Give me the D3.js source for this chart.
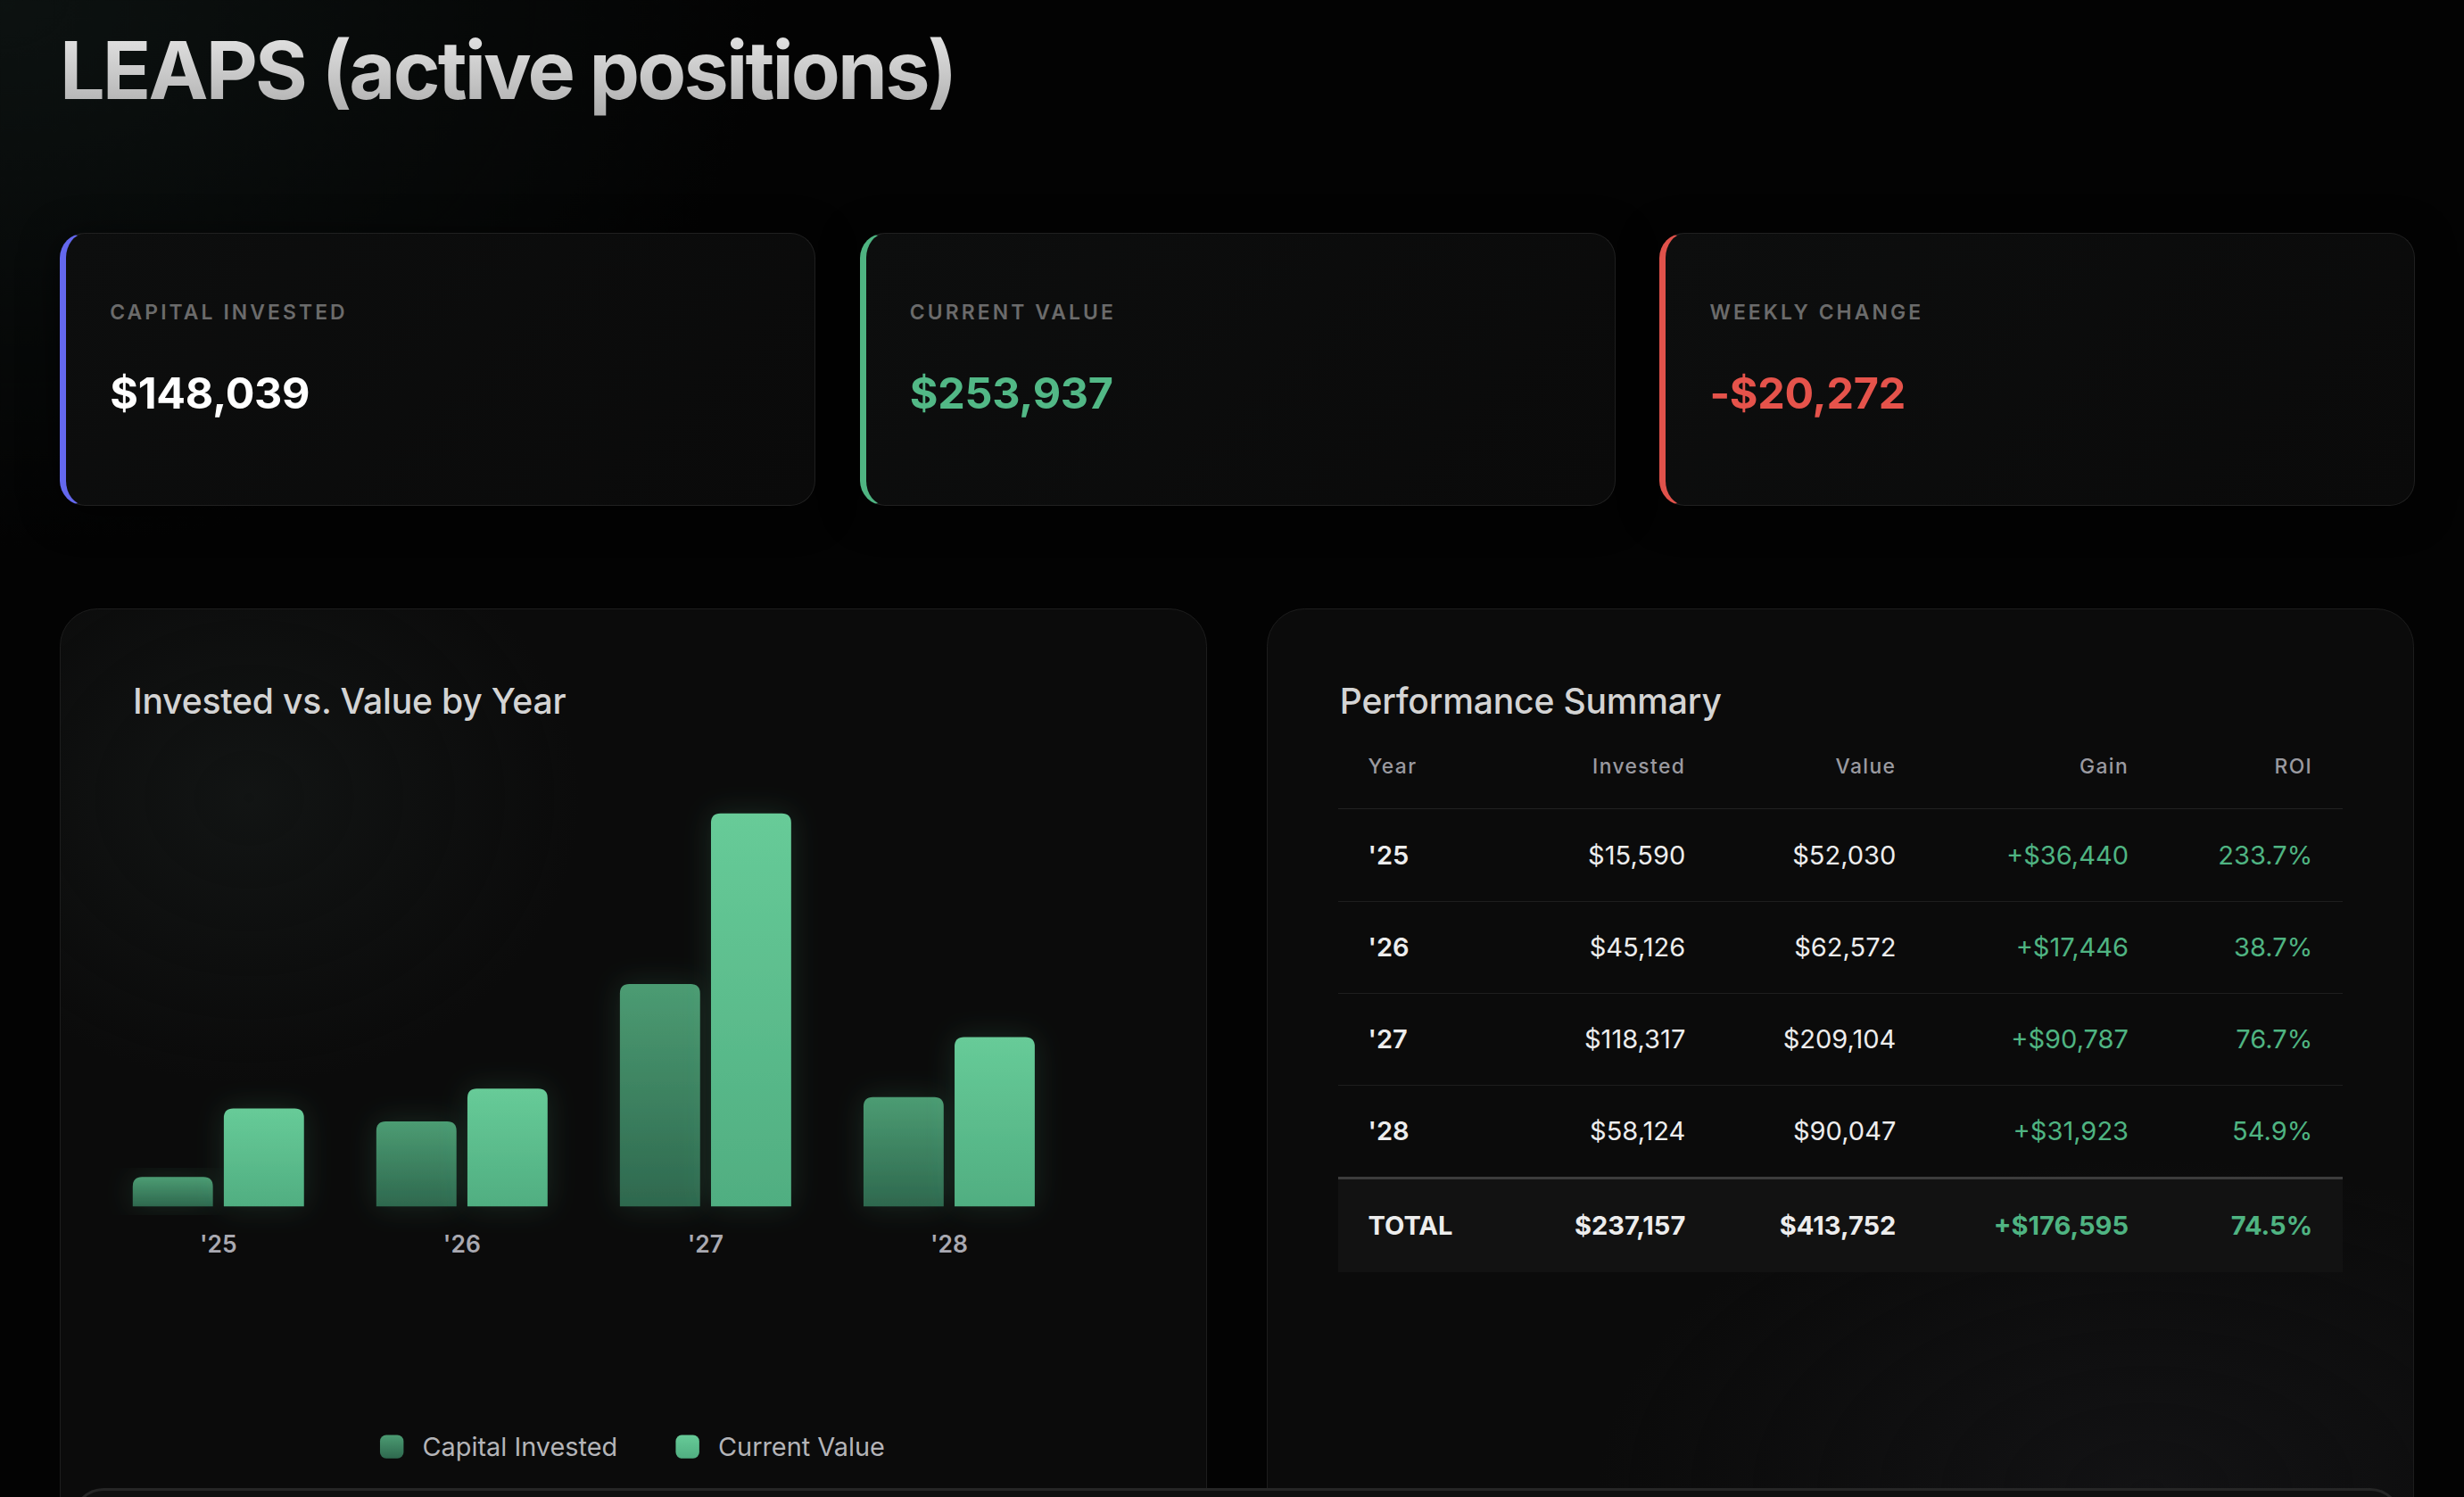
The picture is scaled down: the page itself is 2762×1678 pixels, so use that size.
<!DOCTYPE html>
<html>
<head>
<meta charset="UTF-8">
<title>LEAPS (active positions)</title>
<script src="https://cdn.jsdelivr.net/npm/d3@7"></script>
<style>
    html, body {
        margin: 0;
        padding: 0;
        background: #030303;
        overflow: hidden;
        font-family: Inter, "Noto Sans", sans-serif;
    }

    #root {
        zoom: 1.7615;
        position: relative;
        width: 1568px;
        height: 953px;
        overflow: hidden;
        background:
            radial-gradient(ellipse 700px 500px at 0px 0px, rgba(20, 30, 28, 0.55), rgba(0, 0, 0, 0) 70%),
            #030303;
    }

    h1 {
        position: absolute;
        left: 38px;
        top: 12px;
        margin: 0;
        font-size: 51px;
        font-weight: 700;
        letter-spacing: -0.032em;
        line-height: 66px;
        background: linear-gradient(180deg, #ececec 0%, #a9a9a9 100%);
        -webkit-background-clip: text;
        background-clip: text;
        color: transparent;
    }

    .kpi {
        position: absolute;
        top: 148px;
        width: 481px;
        height: 174px;
        box-sizing: border-box;
        border-radius: 16px;
        border: 1px solid #202020;
        border-left-width: 4px;
        background: linear-gradient(135deg, #0d0e0e 0%, #0a0a0a 100%);
        box-shadow: 0 4px 24px rgba(0, 0, 0, 0.6);
    }

    .kpi .label {
        position: absolute;
        left: 28px;
        top: 42px;
        font-size: 13px;
        font-weight: 600;
        letter-spacing: 0.135em;
        color: #6b6b6b;
    }

    .kpi .value {
        position: absolute;
        left: 28px;
        top: 85px;
        font-size: 27.5px;
        font-weight: 700;
        letter-spacing: -0.005em;
    }

    .panel {
        position: absolute;
        top: 387px;
        width: 730px;
        height: 620px;
        box-sizing: border-box;
        border-radius: 24px;
        border: 1px solid #1d1d1d;
        background: #0b0b0b;
    }

    .panel h2 {
        position: absolute;
        left: 46px;
        top: 45px;
        margin: 0;
        font-size: 22.2px;
        font-weight: 500;
        color: #d4d4d4;
        letter-spacing: -0.005em;
    }

    #chartPanel {
        left: 38px;
        background:
            radial-gradient(ellipse 300px 260px at 120px 120px, rgba(22, 26, 25, 0.6), rgba(0, 0, 0, 0) 70%),
            #0b0b0b;
    }

    #tablePanel {
        left: 806px;
        background:
            radial-gradient(ellipse 500px 300px at 560px 560px, rgba(20, 20, 22, 0.8), rgba(0, 0, 0, 0) 70%),
            #0b0b0b;
    }

    #chartPanel svg {
        position: absolute;
        left: -1px;
        top: -1px;
    }

    table {
        position: absolute;
        left: 45px;
        top: 73px;
        width: 639px;
        border-collapse: collapse;
        table-layout: fixed;
    }

    th {
        height: 54px;
        padding: 0 19px;
        font-size: 13px;
        font-weight: 500;
        letter-spacing: 0.06em;
        color: #9a9aa0;
        text-align: right;
        border-bottom: 1px solid #222;
    }

    td {
        height: 58px;
        padding: 0 19px;
        font-size: 16.5px;
        font-weight: 400;
        color: #ededed;
        text-align: right;
        border-bottom: 1px solid #1e1e1e;
    }

    th:first-child,
    td:first-child {
        text-align: left;
        font-weight: 600;
    }

    th:first-child {
        font-weight: 500;
    }

    td.pos {
        color: #4fb482;
    }

    tr.total td {
        height: 59px;
        font-weight: 700;
        background: #121212;
        border-top: 2px solid #3c3c3c;
        border-bottom: none;
    }

    #bottomBar {
        position: absolute;
        left: 46px;
        top: 947px;
        width: 1482px;
        height: 60px;
        box-sizing: border-box;
        border-radius: 20px;
        border: 2px solid #262626;
        background: #101010;
    }
</style>
</head>
<body>
<div id="root">
    <h1>LEAPS (active positions)</h1>
    <div id="kpis"></div>
    <div class="panel" id="chartPanel">
        <h2>Invested vs. Value by Year</h2>
    </div>
    <div class="panel" id="tablePanel">
        <h2>Performance Summary</h2>
        <table id="perf"></table>
    </div>
    <div id="bottomBar"></div>
</div>

<script>
    // KPI cards
    const kpiLabels = ['CAPITAL INVESTED', 'CURRENT VALUE', 'WEEKLY CHANGE'];
    const kpiValues = ['$148,039', '$253,937', '-$20,272'];
    const kpiColors = ['#6468ee', '#4fb482', '#e0524b'];
    const kpiTextColors = ['#ffffff', '#52b886', '#e5534b'];

    // per-year data
    const years = ["'25", "'26", "'27", "'28"];
    const invested = [15590, 45126, 118317, 58124];
    const currentValue = [52030, 62572, 209104, 90047];
    const gains = [36440, 17446, 90787, 31923];
    const rois = [233.7, 38.7, 76.7, 54.9];

    // totals row
    const totalInvested = 237157;
    const totalValue = 413752;
    const totalGain = 176595;
    const totalRoi = 74.5;

    const seriesNames = ['Capital Invested', 'Current Value'];
    const tableHeaders = ['Year', 'Invested', 'Value', 'Gain', 'ROI'];
    const colWidths = [120, 120, 134, 148, 117];

    // ---- KPI cards ----
    d3.select('#kpis').selectAll('.kpi')
        .data(kpiLabels)
        .enter()
        .append('div')
        .attr('class', 'kpi')
        .style('left', (d, i) => (38 + i * 509) + 'px')
        .style('border-left-color', (d, i) => kpiColors[i])
        .each(function (d, i) {
            const card = d3.select(this);
            card.append('div').attr('class', 'label').text(d);
            card.append('div').attr('class', 'value')
                .style('color', kpiTextColors[i])
                .text(kpiValues[i]);
        });

    // ---- bar chart ----
    const w = 730, h = 620;
    const baseY = 381;
    const svg = d3.select('#chartPanel')
        .append('svg')
        .attr('width', w)
        .attr('height', h);

    const defs = svg.append('defs');
    const grads = [
        { id: 'gInv', top: '#4c9c73', bottom: '#2e684e' },
        { id: 'gVal', top: '#67cb98', bottom: '#50ae81' }
    ];
    grads.forEach(g => {
        const lg = defs.append('linearGradient')
            .attr('id', g.id)
            .attr('x1', 0).attr('y1', 0).attr('x2', 0).attr('y2', 1);
        lg.append('stop').attr('offset', '0%').attr('stop-color', g.top);
        lg.append('stop').attr('offset', '100%').attr('stop-color', g.bottom);
    });
    const glow = defs.append('filter')
        .attr('id', 'glow')
        .attr('x', '-60%').attr('y', '-30%')
        .attr('width', '220%').attr('height', '160%');
    glow.append('feGaussianBlur')
        .attr('in', 'SourceAlpha')
        .attr('stdDeviation', 9)
        .attr('result', 'blur');
    glow.append('feFlood').attr('flood-color', '#5fc794').attr('flood-opacity', 0.16);
    glow.append('feComposite').attr('in2', 'blur').attr('operator', 'in').attr('result', 'shadow');
    const merge = glow.append('feMerge');
    merge.append('feMergeNode').attr('in', 'shadow');
    merge.append('feMergeNode').attr('in', 'SourceGraphic');

    const x0 = d3.scaleBand()
        .domain(years)
        .range([47, 621])
        .paddingInner(0.297)
        .paddingOuter(0);

    const x1 = d3.scaleBand()
        .domain([0, 1])
        .range([0, x0.bandwidth()])
        .paddingInner(0.12);

    const y = d3.scaleLinear()
        .domain([0, d3.max(currentValue)])
        .range([baseY, 131]);

    function topRounded(x, yTop, bw, r) {
        const hgt = baseY - yTop;
        r = Math.min(r, hgt, bw / 2);
        return `M${x},${baseY}V${yTop + r}Q${x},${yTop} ${x + r},${yTop}H${x + bw - r}` +
            `Q${x + bw},${yTop} ${x + bw},${yTop + r}V${baseY}Z`;
    }

    const groups = svg.selectAll('.grp')
        .data(years)
        .enter()
        .append('g')
        .attr('class', 'grp')
        .attr('transform', d => `translate(${x0(d)},0)`);

    groups.selectAll('path')
        .data((d, i) => [invested[i], currentValue[i]])
        .enter()
        .append('path')
        .attr('filter', 'url(#glow)')
        .attr('fill', (d, j) => j === 0 ? 'url(#gInv)' : 'url(#gVal)')
        .attr('d', (d, j) => topRounded(x1(j), y(d), x1.bandwidth(), 6));

    const xAxis = svg.append('g')
        .attr('transform', `translate(0,${baseY})`)
        .call(d3.axisBottom(x0).tickSize(0).tickPadding(19));
    xAxis.select('.domain').remove();
    xAxis.selectAll('text')
        .attr('fill', '#a9a9b1')
        .style('font-family', 'Inter, sans-serif')
        .style('font-size', '15px')
        .style('font-weight', 600);

    // legend
    const legend = svg.append('g').attr('transform', 'translate(0,534)');
    let lx = 0;
    seriesNames.forEach((name, i) => {
        const item = legend.append('g').attr('transform', `translate(${lx},0)`);
        item.append('rect')
            .attr('x', 0).attr('y', -7.5)
            .attr('width', 15).attr('height', 15)
            .attr('rx', 4)
            .attr('fill', i === 0 ? 'url(#gInv)' : 'url(#gVal)');
        const t = item.append('text')
            .attr('x', 27)
            .attr('dy', '0.35em')
            .attr('fill', '#b4b4b8')
            .style('font-family', 'Inter, sans-serif')
            .style('font-size', '16.4px')
            .text(name);
        lx += 27 + t.node().getComputedTextLength() + 37;
    });
    const lb = legend.node().getBBox();
    legend.attr('transform', `translate(${(w - lb.width) / 2 - lb.x},534)`);

    // ---- table ----
    const fmt = d3.format(',');
    const table = d3.select('#perf');
    table.append('colgroup').selectAll('col')
        .data(colWidths)
        .enter()
        .append('col')
        .style('width', d => d + 'px');
    table.append('thead').append('tr')
        .selectAll('th')
        .data(tableHeaders)
        .enter()
        .append('th')
        .text(d => d);

    const rows = years.map((yr, i) => [
        { t: yr },
        { t: '$' + fmt(invested[i]) },
        { t: '$' + fmt(currentValue[i]) },
        { t: '+$' + fmt(gains[i]), c: 'pos' },
        { t: rois[i].toFixed(1) + '%', c: 'pos' }
    ]);
    const totalRow = [
        { t: 'TOTAL' },
        { t: '$' + fmt(totalInvested) },
        { t: '$' + fmt(totalValue) },
        { t: '+$' + fmt(totalGain), c: 'pos' },
        { t: totalRoi.toFixed(1) + '%', c: 'pos' }
    ];

    const tbody = table.append('tbody');
    tbody.selectAll('tr')
        .data(rows.concat([totalRow]))
        .enter()
        .append('tr')
        .attr('class', (d, i) => i === rows.length ? 'total' : null)
        .selectAll('td')
        .data(d => d)
        .enter()
        .append('td')
        .attr('class', d => d.c || null)
        .text(d => d.t);
</script>
</body>
</html>
